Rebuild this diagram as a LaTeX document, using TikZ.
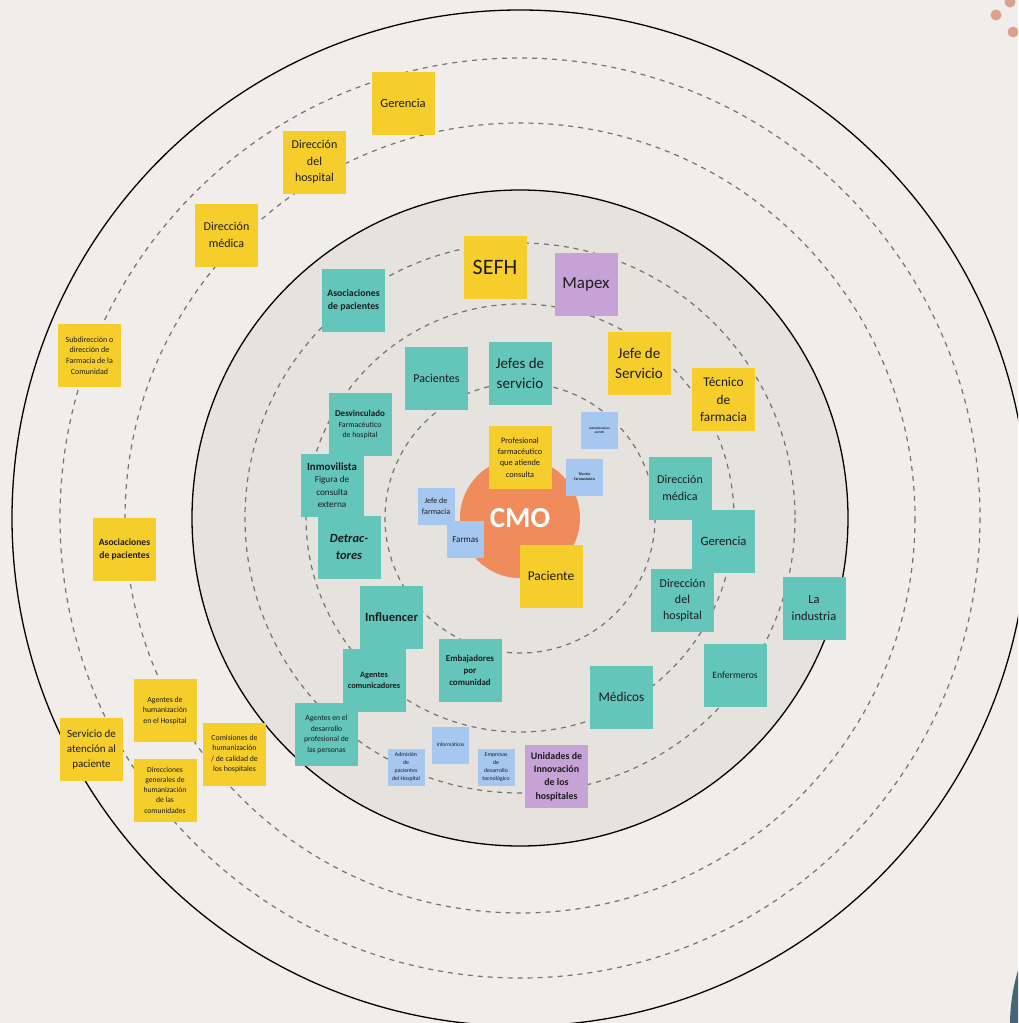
\documentclass[tikz,border=0pt]{standalone}
\usepackage{fontspec}
\setmainfont{Carlito}
\usepackage{tikz}

\definecolor{paper}{HTML}{F1EDEA}
\definecolor{ringfill}{HTML}{E6E3DF}
\definecolor{postyellow}{HTML}{F5CE2C}
\definecolor{postteal}{HTML}{64C5BB}
\definecolor{postlilac}{HTML}{C7A2D7}
\definecolor{postblue}{HTML}{A6C8F0}
\definecolor{cmoorange}{HTML}{F08B5C}
\definecolor{dotpink}{HTML}{D9A28D}
\definecolor{slate}{HTML}{466676}
\definecolor{ink}{HTML}{1C1C1C}

\newcommand{\notesize}{63pt}
\newcommand{\chipsize}{37pt}
\newcommand{\fs}[1]{\fontsize{#1}{\the\dimexpr #1pt*27/20\relax}\selectfont}

\begin{document}
\begin{tikzpicture}[x=1pt,y=-1pt,style=thick]
    \useasboundingbox (0,0) rectangle (1018,1023);
    \clip (0,0) rectangle (1018,1023);
    \fill[paper] (0,0) rectangle (1018,1023);

    % rings around the CMO
    \coordinate (c) at (520,518);
    \tikzstyle{ring}=[draw=black,line width=1.3pt]
    \tikzstyle{guide}=[draw=black!55,line width=1.2pt,dash pattern=on 5pt off 5pt]

    \draw[ring] (c) circle[radius=508];
    \draw[guide] (c) circle[radius=460];
    \draw[guide] (c) circle[radius=395];
    \filldraw[ring,fill=ringfill] (c) circle[radius=328];
    \draw[guide] (c) circle[radius=275];
    \draw[guide] (c) circle[radius=214];
    \draw[guide] (c) circle[radius=135];

    % corner ornaments
    \fill[dotpink] (1010,2) circle[radius=5.5];
    \fill[dotpink] (996,15) circle[radius=5.5];
    \fill[dotpink] (1013,32) circle[radius=5.5];
    \fill[slate] (1199,1025) circle[radius=189];

    \node[circle,fill=cmoorange,minimum size=120pt,inner sep=0pt,text=white,font=\fs{29}\bfseries] (cmo) at (c) {CMO};

    % yellow notes
    \begin{scope}[minimum size=\notesize,inner sep=0pt,align=center,text=ink]
    \tikzstyle{every node}=[fill=postyellow]
        \node[font=\fs{12.5}] (gerencia_out) at (403,103) {Gerencia};
        \node[font=\fs{12}] (dirhosp_out) at (314.5,162) {Dirección\\del\\hospital};
        \node[font=\fs{12}] (dirmed_out) at (226.5,235) {Dirección\\médica};
        \node[font=\fs{8}] (subdir) at (89.5,355.5) {Subdirección o\\dirección de\\Farmacia de la\\Comunidad};
        \node[font=\fs{9.6}\bfseries] (asoc_out) at (124.5,549) {Asociaciones\\de pacientes};
        \node[font=\fs{11}] (sac) at (91.5,749.5) {Servicio de\\atención al\\paciente};
        \node[font=\fs{7.8}] (agentes_hum) at (165,710.5) {Agentes de\\humanización\\en el Hospital};
        \node[font=\fs{7.8}] (comisiones) at (234.5,754) {Comisiones de\\humanización\\/ de calidad de\\los hospitales};
        \node[font=\fs{7.6}] (dirgen) at (165,790) {Direcciones\\generales de\\humanización\\de las\\comunidades};
        \node[font=\fs{22}] (sefh) at (495,267) {SEFH};
        \node[font=\fs{15}] (jefe_serv) at (639,363.5) {Jefe de\\Servicio};
        \node[font=\fs{13.3}] (tecnico) at (723.5,399.5) {Técnico\\de\\farmacia};
        \node[font=\fs{8.3}] (profesional) at (520,457.5) {Profesional\\farmacéutico\\que atiende\\consulta};
        \node[font=\fs{13.4}] (paciente) at (551,576) {Paciente};
    \end{scope}

    % lilac notes
    \begin{scope}[minimum size=\notesize,inner sep=0pt,align=center,text=ink]
    \tikzstyle{every node}=[fill=postlilac]
        \node[font=\fs{17}] (mapex) at (586,284.5) {Mapex};
        \node[font=\fs{9.9}\bfseries] (unidades) at (556.5,776.5) {Unidades de\\Innovación\\de los\\hospitales};
    \end{scope}

    % teal notes
    \begin{scope}[minimum size=\notesize,inner sep=0pt,align=center,text=ink]
    \tikzstyle{every node}=[fill=postteal]
        \node[font=\fs{9.8}\bfseries] (asoc_in) at (353.5,300) {Asociaciones\\de pacientes};
        \node[font=\fs{12}] (pacientes) at (436.5,378.5) {Pacientes};
        \node[font=\fs{15}] (jefes_serv) at (520,373) {Jefes de\\servicio};
        \node[font=\fs{7.8}] (desvinculado) at (360,424.5) {{\fs{9}\bfseries Desvinculado}\\Farmacéutico\\de hospital};
        \node[font=\fs{9.2}] (inmovilista) at (332,485) {{\fs{10.9}\bfseries Inmovilista}\\Figura de\\consulta\\externa};
        \node[font=\fs{12.5}\bfseries\itshape] (detractores) at (349,547) {Detrac-\\tores};
        \node[font=\fs{12}] (dirmed_in) at (680,488) {Dirección\\médica};
        \node[font=\fs{12.7}] (gerencia_in) at (723.5,541) {Gerencia};
        \node[font=\fs{12}] (dirhosp_in) at (682.5,600.5) {Dirección\\del\\hospital};
        \node[font=\fs{12.5}] (industria) at (814,608) {La\\industria};
        \node[font=\fs{9.7}] (enfermeros) at (735,675) {Enfermeros};
        \node[font=\fs{13.3}] (medicos) at (621.5,697) {Médicos};
        \node[font=\fs{12.6}\bfseries] (influencer) at (391.5,617.5) {Influencer};
        \node[font=\fs{8.3}\bfseries] (agentes_com) at (374,680.5) {Agentes\\comunicadores};
        \node[font=\fs{8.9}\bfseries] (embajadores) at (470,670.5) {Embajadores\\por\\comunidad};
        \node[font=\fs{7.7}] (agentes_des) at (326.5,734.5) {Agentes en el\\desarrollo\\profesional de\\las personas};
    \end{scope}

    % small blue notes
    \begin{scope}[minimum size=\chipsize,inner sep=0pt,align=center,text=ink]
    \tikzstyle{every node}=[fill=postblue]
        \node[font=\fs{3}\bfseries] (admin_sfh) at (599.5,430.5) {Administradores\\del SFH};
        \node[font=\fs{3.8}\bfseries] (tec_farm) at (584.5,477) {Técnico\\Farmacéutico};
        \node[font=\fs{8}] (jefe_farm) at (436,506) {Jefe de\\farmacia};
        \node[font=\fs{9}] (farmas) at (465.5,539.5) {Farmas};
        \node[font=\fs{5.4}] (informaticos) at (450.5,745) {Informáticos};
        \node[font=\fs{5.8}] (admision) at (406,767) {Admisión\\de\\pacientes\\del Hospital};
        \node[font=\fs{5.8}] (empresas) at (496,767) {Empresas\\de\\desarrollo\\tecnológico};
    \end{scope}
\end{tikzpicture}
\end{document}
